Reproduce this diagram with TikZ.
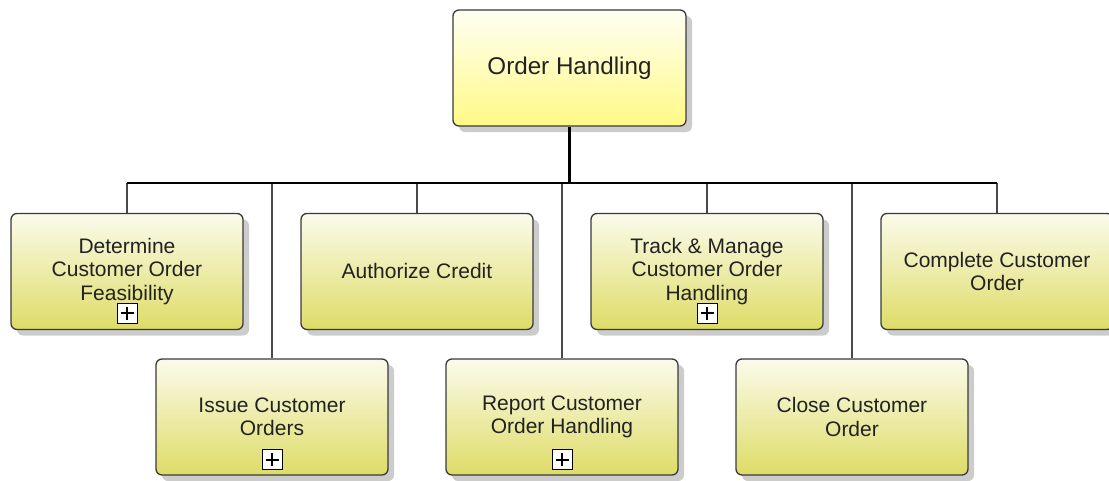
\documentclass[tikz,border=0pt]{standalone}
\usepackage{fontspec}
\setmainfont{Liberation Sans}
\usetikzlibrary{shadows}
\definecolor{boxline}{HTML}{3A3A3A}
\definecolor{topA}{HTML}{FFFFF4}
\definecolor{topB}{HTML}{FFF985}
\definecolor{kidA}{HTML}{FBFBEC}
\definecolor{kidB}{HTML}{DEDC66}
\definecolor{txt}{HTML}{222222}
\definecolor{conn}{HTML}{4A4A4A}
\begin{document}
\begin{tikzpicture}[x=1pt,y=-1pt,
  boxbase/.style={draw=boxline, line width=1.3pt, rounded corners=6pt,
    drop shadow={shadow xshift=6pt, shadow yshift=-6pt, fill=black!40, opacity=0.5},
    text=txt, align=center, inner sep=0pt},
  topbox/.style={boxbase, minimum width=233pt, minimum height=116pt,
    top color=topA, bottom color=topB, font=\fontsize{24.2}{28}\selectfont},
  kidbox/.style={boxbase, minimum width=232pt, minimum height=116pt,
    top color=kidA, bottom color=kidB, font=\fontsize{21}{23.2}\selectfont},
  plusbox/.style={draw=black, fill=white, line width=1pt, minimum size=20pt, inner sep=0pt,
    path picture={
      \draw[line width=1.7pt, black] ([xshift=-6.5pt]path picture bounding box.center) -- ([xshift=6.5pt]path picture bounding box.center);
      \draw[line width=1.7pt, black] ([yshift=-6.5pt]path picture bounding box.center) -- ([yshift=6.5pt]path picture bounding box.center);
    }},
  busline/.style={draw=black, line width=1.6pt},
  stemline/.style={draw=black, line width=3pt},
  kidline/.style={draw=conn, line width=1.5pt}
]
\useasboundingbox (0,0) rectangle (1109,480);

\node[topbox] (top) at (569.5,68) {\raisebox{-2pt}{Order Handling}};

\node[kidbox] (c1) at (127,271.5) {Determine\\Customer Order\\Feasibility};
\node[kidbox] (c2) at (417,271.5) {\raisebox{2pt}{Authorize Credit}};
\node[kidbox] (c3) at (707,271.5) {Track \& Manage\\Customer Order\\Handling};
\node[kidbox] (c4) at (997,271.5) {Complete Customer\\Order};

\node[kidbox] (d1) at (272,417) {Issue Customer\\Orders};
\node[kidbox] (d2) at (562,417) {Report Customer\\Order Handling};
\node[kidbox] (d3) at (852,417) {Close Customer\\Order};

\node[plusbox] (p1) at ([yshift=17pt]c1.south) {};
\node[plusbox] (p3) at ([yshift=17pt]c3.south) {};
\node[plusbox] (q1) at ([yshift=16pt]d1.south) {};
\node[plusbox] (q2) at ([yshift=16pt]d2.south) {};

\coordinate (bus) at (0,183);

\foreach \n in {c1,c2,c3,c4,d1,d2,d3}
  \draw[kidline] (\n.north |- bus) -- (\n.north);
\draw[busline] (c1.north |- bus) -- (c4.north |- bus);
\draw[stemline] (top.south) -- (top.south |- bus);
\end{tikzpicture}
\end{document}
